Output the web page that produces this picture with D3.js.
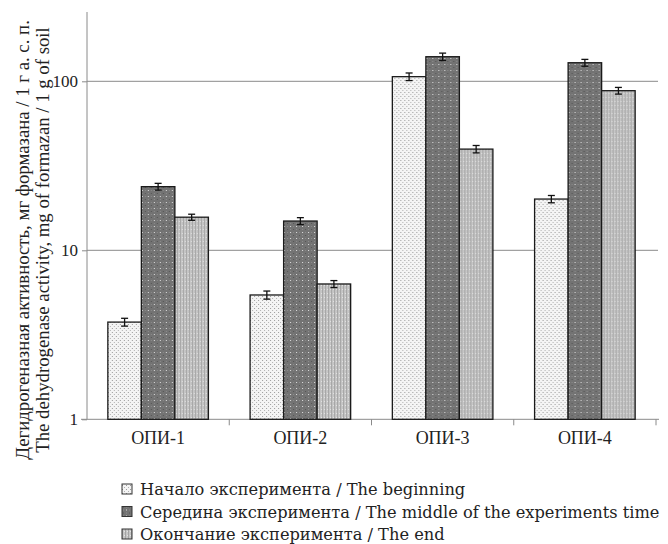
<!DOCTYPE html>
<html><head><meta charset="utf-8">
<script src="https://cdn.jsdelivr.net/npm/d3@7"></script>
<style>body{margin:0;background:#fff}svg{display:block}</style>
</head><body>
<script>
const categories = ["ОПИ-1", "ОПИ-2", "ОПИ-3", "ОПИ-4"];
const seriesNames = [
  "Начало эксперимента / The beginning",
  "Середина эксперимента / The middle of the experiments time",
  "Окончание эксперимента / The end"
];
const beginning = [3.76, 5.44, 106.5, 20.1];
const middle = [23.8, 14.9, 139.8, 128.8];
const end = [15.7, 6.32, 39.7, 88.0];
const errBeginning = [0.2, 0.3, 5.5, 1.0];
const errMiddle = [1.1, 0.7, 7.0, 6.0];
const errEnd = [0.65, 0.3, 2.0, 4.0];
const yTicks = [1, 10, 100];
const yLabel = ["Дегидрогеназная активность, мг формазана / 1 г а. с. п.",
                "The dehydrogenase activity, mg of formazan / 1 g of soil"];

const values = [beginning, middle, end];
const errors = [errBeginning, errMiddle, errEnd];

const W = 668, H = 544;
const mLeft = 87, mRight = 656, mTop = 12, mBottom = 419.3;
const SERIF = "'Liberation Serif', 'Times New Roman', Tinos, serif";

const svg = d3.select("body").append("svg").attr("width", W).attr("height", H);
const defs = svg.append("defs");

const p1 = defs.append("pattern").attr("id","pat0").attr("width",4).attr("height",4).attr("patternUnits","userSpaceOnUse");
p1.append("rect").attr("width",4).attr("height",4).attr("fill","#f4f4f4");
p1.append("rect").attr("x",0).attr("y",0).attr("width",1).attr("height",1).attr("fill","#9a9a9a");
p1.append("rect").attr("x",2).attr("y",2).attr("width",1).attr("height",1).attr("fill","#b0b0b0");
const p2 = defs.append("pattern").attr("id","pat1").attr("width",6).attr("height",6).attr("patternUnits","userSpaceOnUse");
p2.append("rect").attr("width",6).attr("height",6).attr("fill","#737373");
p2.append("rect").attr("x",1).attr("y",1).attr("width",1).attr("height",1).attr("fill","#555");
p2.append("rect").attr("x",4).attr("y",4).attr("width",1).attr("height",1).attr("fill","#e0e0e0");
p2.append("rect").attr("x",4).attr("y",1).attr("width",1).attr("height",1).attr("fill","#8c8c8c");
p2.append("rect").attr("x",1).attr("y",4).attr("width",1).attr("height",1).attr("fill","#8c8c8c");
const p3 = defs.append("pattern").attr("id","pat2").attr("width",3).attr("height",4).attr("patternUnits","userSpaceOnUse");
p3.append("rect").attr("width",3).attr("height",4).attr("fill","#c6c6c6");
p3.append("rect").attr("x",0).attr("y",0).attr("width",1).attr("height",4).attr("fill","#a4a4a4");
p3.append("rect").attr("x",2).attr("y",1).attr("width",1).attr("height",1).attr("fill","#e4e4e4");

const x0 = d3.scaleBand().domain(categories).range([mLeft, mRight]).paddingInner(0.293).paddingOuter(0.1465);
const x1 = d3.scaleBand().domain(d3.range(3)).range([0, x0.bandwidth()]);
const y = d3.scaleLog().domain([1, Math.pow(10, (mBottom - mTop) / 169)]).range([mBottom, mTop]);

svg.append("g").selectAll("line").data(yTicks.filter(d => d > 1)).join("line")
  .attr("x1", mLeft).attr("x2", mRight + 2).attr("y1", d => y(d)).attr("y2", d => y(d))
  .attr("stroke", "#8a8a8a").attr("stroke-width", 1);

const yAxis = svg.append("g").attr("transform", `translate(${mLeft},0)`)
  .call(d3.axisLeft(y).tickValues(yTicks).tickFormat(d3.format("d")).tickSize(5).tickPadding(4));
yAxis.select(".domain").attr("stroke", "#8a8a8a").attr("d", `M0,${mTop}V${mBottom}`);
yAxis.selectAll(".tick line").attr("stroke", "#8a8a8a");
yAxis.selectAll("text").attr("font-family", SERIF).attr("font-size", 17).attr("fill", "#222");

const xAxis = svg.append("g").attr("transform", `translate(0,${mBottom})`)
  .call(d3.axisBottom(x0).tickSize(0).tickPadding(12));
xAxis.select(".domain").attr("stroke", "#8a8a8a").attr("d", `M${mLeft - 6},0H${mRight + 3}`);
xAxis.selectAll("text").attr("font-family", SERIF).attr("font-size", 18).attr("fill", "#222");
const seps = d3.range(1, categories.length + 1).map(i => mLeft + i * x0.step());
svg.append("g").selectAll("line").data(seps).join("line")
  .attr("x1", d => d).attr("x2", d => d).attr("y1", mBottom).attr("y2", mBottom + 6)
  .attr("stroke", "#8a8a8a");

const rows = (c, i) => values.map((s, k) => ({k, v: s[i], e: errors[k][i]}));
const groups = svg.append("g").selectAll("g").data(categories).join("g")
  .attr("transform", c => `translate(${x0(c)},0)`);
groups.selectAll("rect").data(rows).join("rect")
  .attr("x", d => x1(d.k)).attr("width", x1.bandwidth())
  .attr("y", d => y(d.v)).attr("height", d => mBottom - y(d.v))
  .attr("fill", d => `url(#pat${d.k})`).attr("stroke", "#1a1a1a").attr("stroke-width", 1.3);

const eb = groups.selectAll("g.eb").data(rows).join("g").attr("class","eb");
const cx = d => x1(d.k) + x1.bandwidth()/2;
eb.append("line").attr("x1", cx).attr("x2", cx)
  .attr("y1", d => y(d.v + d.e)).attr("y2", d => y(d.v - d.e)).attr("stroke", "#111").attr("stroke-width", 1.3);
eb.append("line").attr("x1", d => cx(d) - 3.5).attr("x2", d => cx(d) + 3.5)
  .attr("y1", d => y(d.v + d.e)).attr("y2", d => y(d.v + d.e)).attr("stroke", "#111").attr("stroke-width", 1.3);
eb.append("line").attr("x1", d => cx(d) - 3.5).attr("x2", d => cx(d) + 3.5)
  .attr("y1", d => y(d.v - d.e)).attr("y2", d => y(d.v - d.e)).attr("stroke", "#111").attr("stroke-width", 1.3);

// y label (fit line 1 to ~440px)
const yl = svg.append("text").attr("transform", "translate(0,240) rotate(-90)")
  .attr("text-anchor", "middle").attr("font-family", SERIF).attr("font-size", 17).attr("fill", "#222");
const t1 = yl.append("tspan").attr("x", 0).attr("y", 29).text(yLabel[0]);
yl.append("tspan").attr("x", 0).attr("y", 49).text(yLabel[1]);
const w1 = t1.node().getComputedTextLength();
yl.attr("font-size", Math.min(19.5, 17 * 440 / w1));

// legend (fit longest row to ~520px)
const leg = svg.append("g").selectAll("g").data(seriesNames).join("g")
  .attr("transform", (d, i) => `translate(122,${489 + i * 22.5})`);
leg.append("rect").attr("x", 0).attr("y", -5).attr("width", 10).attr("height", 10)
  .attr("fill", (d, i) => `url(#pat${i})`).attr("stroke", "#333").attr("stroke-width", 1);
const lt = leg.append("text").attr("x", 18).attr("y", 6).attr("font-family", "'DejaVu Serif', serif")
  .attr("font-size", 16).attr("fill", "#222").text(d => d);
const lw = lt.nodes()[1].getComputedTextLength();
lt.attr("font-size", 16 * 520 / lw);
</script>
</body></html>
